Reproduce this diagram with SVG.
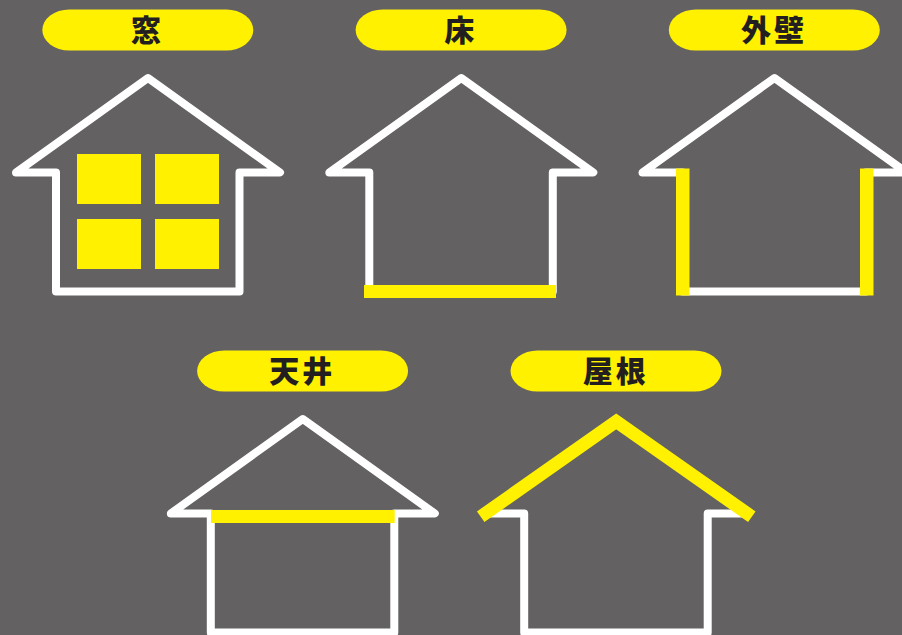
<svg xmlns="http://www.w3.org/2000/svg" width="902" height="635" viewBox="0 0 902 635">
<style>
.bg{fill:#636162}
.pill,.y{fill:#fff100}
.h{fill:none;stroke:#fff;stroke-width:8;stroke-linejoin:round;stroke-linecap:round}
.t{font-family:"Noto Sans CJK JP","Noto Sans CJK SC",sans-serif;font-weight:900;font-size:30px;fill:#231f20;text-anchor:middle}
.w{letter-spacing:3px}
</style>
<defs>
<path id="house" class="h" d="M148 78L280 172.500H239.500V291.500H56V172.500H16Z"/>
<rect id="pill" class="pill" x="42.300" y="9.500" width="211" height="41" rx="27" ry="20.500"/>
</defs>
<rect class="bg" width="902" height="635"/>
<g id="node-window">
<use href="#pill"/><text class="t" x="146" y="40.500">窓</text>
<use href="#house"/>
<rect class="y" x="77" y="154" width="64" height="50"/><rect class="y" x="155" y="154" width="64" height="50"/>
<rect class="y" x="77" y="219" width="64" height="50"/><rect class="y" x="155" y="219" width="64" height="50"/>
</g>
<g id="node-floor" transform="translate(313.300 0)">
<use href="#pill"/><text class="t" x="146" y="40.500">床</text>
<use href="#house"/>
<rect class="y" x="50.700" y="285" width="192" height="13"/>
</g>
<g id="node-wall" transform="translate(626.500 0)">
<use href="#pill"/><text class="t w" x="147.500" y="40.500">外壁</text>
<use href="#house"/>
<rect class="y" x="49.500" y="168.500" width="13.500" height="127"/>
<rect class="y" x="233.500" y="168.500" width="13.500" height="127"/>
</g>
<g id="node-ceiling" transform="translate(154.800 341)">
<use href="#pill"/><text class="t w" x="147.500" y="40.500">天井</text>
<use href="#house"/>
<rect class="y" x="56.200" y="169" width="183.700" height="13"/>
</g>
<g id="node-roof" transform="translate(468.200 341)">
<use href="#pill"/><text class="t w" x="147.500" y="40.500">屋根</text>
<use href="#house"/>
<path d="M12.500 175.700L148 80.500L283.600 175.700" fill="none" stroke="#fff100" stroke-width="13" stroke-linejoin="miter"/>
</g>
<g id="connectors"/>
</svg>
